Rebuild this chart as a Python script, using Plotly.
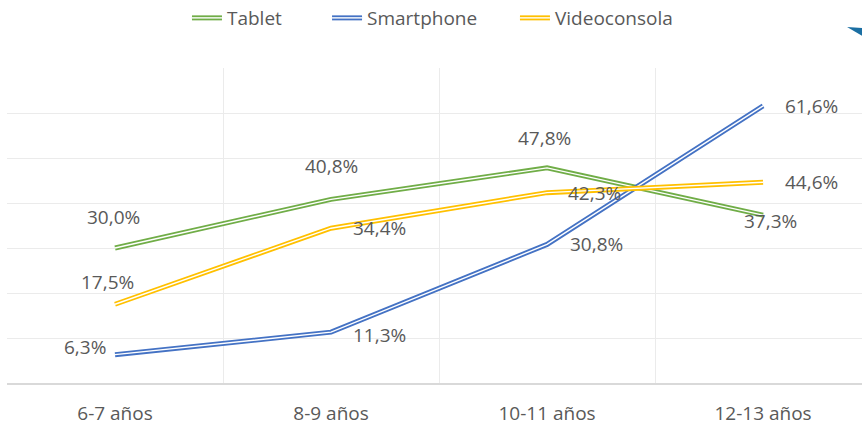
import plotly.graph_objects as go

categories = ["6-7 años", "8-9 años", "10-11 años", "12-13 años"]
tablet = [30.0, 40.8, 47.8, 37.3]
smartphone = [6.3, 11.3, 30.8, 61.6]
videoconsola = [17.5, 34.4, 42.3, 44.6]

series = [
    ("Tablet", tablet, "#70AD47"),
    ("Smartphone", smartphone, "#4472C4"),
    ("Videoconsola", videoconsola, "#FFC000"),
]

# label placement per series/point: (xanchor, xshift, yshift)
label_pos = {
    "Tablet": [("center", -2, 31), ("center", 0, 33), ("center", -3, 30), ("center", 7, -6)],
    "Smartphone": [("right", -7, 8), ("left", 20, -3), ("left", 21, 0), ("left", 20, 0)],
    "Videoconsola": [("center", -8, 22), ("left", 20, 0), ("left", 19, 0), ("left", 20, 0)],
}
legend_x = [0.2169, 0.3794, 0.5974]

FONT = "Open Sans"
TXT = "#595959"

def fmt(v):
    return f"{v:.1f}".replace(".", ",") + "%"

fig = go.Figure()
for k, (name, vals, color) in enumerate(series):
    lg = "legend" if k == 0 else f"legend{k+1}"
    lw = f"legend{k+4}"
    fig.add_trace(go.Scatter(x=categories, y=vals, mode="lines", name=name, legend=lg,
                             line=dict(color=color, width=5), hoverinfo="skip"))
    fig.add_trace(go.Scatter(x=categories, y=vals, mode="lines", name=" ", legend=lw,
                             showlegend=True,
                             line=dict(color="white", width=1.4), hoverinfo="skip"))

annotations = []
for name, vals, color in series:
    for i, (c, v) in enumerate(zip(categories, vals)):
        xa, xs, ys = label_pos[name][i]
        annotations.append(dict(x=c, y=v, xref="x", yref="y", text=fmt(v), showarrow=False,
                                xanchor=xa, yanchor="middle", xshift=xs, yshift=ys,
                                font=dict(family=FONT, size=19, color=TXT)))

def legend_cfg(x):
    return dict(orientation="h", xref="container", yref="container",
                x=x, xanchor="left", y=0.9577, yanchor="middle",
                font=dict(family=FONT, size=19, color=TXT),
                bgcolor="rgba(0,0,0,0)", itemclick=False, itemdoubleclick=False)

layout_legends = {}
for k in range(3):
    key = "legend" if k == 0 else f"legend{k+1}"
    layout_legends[key] = legend_cfg(legend_x[k])
    layout_legends[f"legend{k+4}"] = legend_cfg(legend_x[k])

fig.update_layout(
    width=862, height=426,
    margin=dict(l=7, r=0, t=68, b=43, autoexpand=False),
    paper_bgcolor="white", plot_bgcolor="white",
    annotations=annotations,
    showlegend=True,
    shapes=[dict(type="path", xref="paper", yref="paper",
                 path="M 0.9825 1.130 L 1.0 1.127 L 1.0 1.102 Z",
                 fillcolor="#1B6FA3", line=dict(width=0))],
    **layout_legends,
)
fig.update_xaxes(type="category", range=[-0.5, 3.458], tickson="boundaries",
                 showgrid=True, gridcolor="#EBEBEB", gridwidth=1, automargin=False,
                 showline=True, linecolor="#D9D9D9", linewidth=1.5,
                 ticks="", ticklabelstandoff=12,
                 tickfont=dict(family=FONT, size=19, color=TXT))
fig.update_yaxes(range=[0, 70], dtick=10, showgrid=True, gridcolor="#EBEBEB", gridwidth=1,
                 showticklabels=False, zeroline=False, showline=False, automargin=False)

fig.write_html("out.html", config={"displayModeBar": False},
               post_script="document.body.style.margin='0';")
